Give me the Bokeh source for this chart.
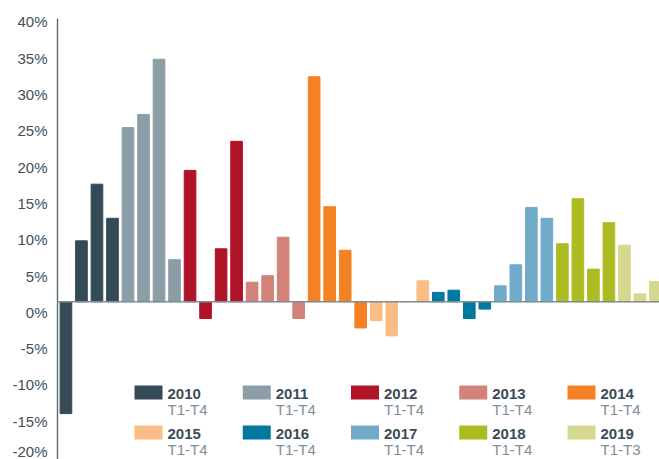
from bokeh.plotting import figure
from bokeh.models import Range1d, LinearAxis, FixedTicker, PrintfTickFormatter, ColumnDataSource, Span
from bokeh.core.properties import value
from bokeh.embed import file_html
from bokeh.resources import INLINE

# ---- data ----
years = ["2010", "2011", "2012", "2013", "2014", "2015", "2016", "2017", "2018", "2019"]
periods = ["T1-T4"] * 9 + ["T1-T3"]
year_colors = ["#344a56", "#8b9ea8", "#ae1328", "#d38279", "#f48225",
               "#fbbd86", "#0078a0", "#72aac9", "#adbb23", "#d5d98f"]
quarters = ["T1", "T2", "T3", "T4"]
values = [-15.4, 8.4, 16.2, 11.5,
          24.0, 25.8, 33.4, 5.8,
          18.1, -2.3, 7.3, 22.1,
          2.7, 3.6, 8.9, -2.3,
          31.0, 13.1, 7.1, -3.6,
          -2.6, -4.7, 0.0, 2.9,
          1.3, 1.6, -2.3, -1.0,
          2.2, 5.1, 13.0, 11.5,
          8.0, 14.2, 4.5, 10.9,
          7.8, 1.1, 2.8]
tick_values = [-20, -15, -10, -5, 0, 5, 10, 15, 20, 25, 30, 35, 40]

# ---- layout constants ----
W, H = 659, 459
BL, BT = 57, 18
XS, XE = -0.544, 38.26
YB, YT = -21.72, 39.02
LAB_SHIFT = 1.45
FONT = "Liberation Sans"

labels = [f"{years[i // 4]} {quarters[i % 4]}" for i in range(len(values))]
src = ColumnDataSource(dict(
    x=list(range(len(values))),
    top=values,
    color=[year_colors[i // 4] for i in range(len(values))],
    label=labels,
))

p = figure(width=W, height=H, x_range=Range1d(XS, XE), y_range=Range1d(YB, YT),
           output_backend="svg", toolbar_location=None,
           x_axis_location=None, y_axis_location=None,
           min_border_left=BL, min_border_right=0, min_border_top=BT, min_border_bottom=0)
p.outline_line_color = None
p.xgrid.visible = False
p.ygrid.visible = False
p.background_fill_color = "white"
p.border_fill_color = "white"

p.vbar(x="x", top="top", bottom=0, width=0.75, color="color", source=src)

p.add_layout(Span(location=0, dimension="width", line_color="#7f8d95", line_width=1.6))

p.extra_y_ranges = {"lab": Range1d(YB + LAB_SHIFT, YT + LAB_SHIFT)}
ax = LinearAxis(y_range_name="lab", ticker=FixedTicker(ticks=tick_values),
                formatter=PrintfTickFormatter(format="%d%%"))
ax.axis_line_color = "#5b6d77"
ax.axis_line_width = 1.4
ax.major_tick_line_color = None
ax.minor_tick_line_color = None
ax.major_tick_out = 0
ax.major_tick_in = 0
ax.major_label_standoff = 10
ax.major_label_text_font = FONT
ax.major_label_text_font_size = "15px"
ax.major_label_text_color = "#3e505b"
p.add_layout(ax, "left")

# ---- custom legend (positions given in picture pixels, converted to data) ----
fw = W - BL
fh = H - BT
def dx(sx):
    return XS + (sx - BL) * (XE - XS) / fw
def dy(sy):
    return YT - (sy - BT) * (YT - YB) / fh

col_x = [134 + 108.25 * k for k in range(5)]
row_top = [385, 425]
sw_x, sw_y, yr_x, yr_y, pr_y = [], [], [], [], []
for j in range(len(years)):
    cx = col_x[j % 5]
    ry = row_top[j // 5]
    sw_x.append(dx(cx + 14))
    sw_y.append(dy(ry + 7))
    yr_x.append(dx(cx + 33))
    yr_y.append(dy(ry + 8))
    pr_y.append(dy(ry + 24))

p.rect(x=sw_x, y=sw_y, width=28, height=14, width_units="screen", height_units="screen",
       fill_color=year_colors, line_color=None)
p.text(x=yr_x, y=yr_y, text=years, text_font=value(FONT), text_font_size="15px",
       text_font_style="bold", text_color="#3a4d57", text_align="left",
       text_baseline="alphabetic")
p.text(x=yr_x, y=pr_y, text=periods, text_font=value(FONT), text_font_size="15px",
       text_color="#7d8f99", text_align="left", text_baseline="alphabetic")

open("out.html", "w").write(file_html(p, INLINE))
